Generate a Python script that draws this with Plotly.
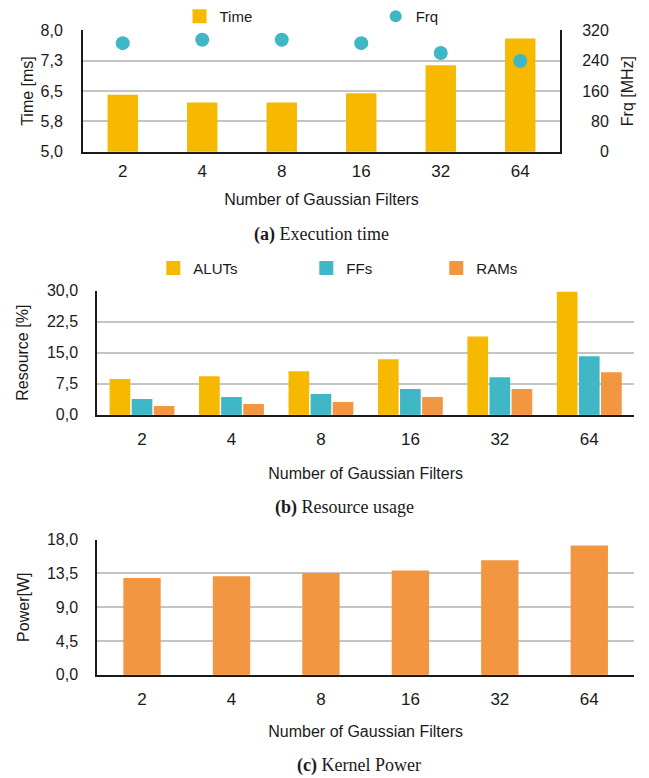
import plotly.graph_objects as go

W, H = 649, 778

filters = ["2", "4", "8", "16", "32", "64"]

# (a) Execution time
time_ms = [6.37, 6.18, 6.18, 6.41, 7.10, 7.76]
frq_mhz = [286, 295, 295, 286, 260, 239]
time_tickvals = [5.0, 5.75, 6.5, 7.25, 8.0]
time_ticktext = ["5,0", "5,8", "6,5", "7,3", "8,0"]
frq_tickvals = [0, 80, 160, 240, 320]
frq_ticktext = ["\u2007\u20070", "\u200780", "160", "240", "320"]

# (b) Resource usage
aluts = [8.28, 8.96, 10.16, 13.04, 18.56, 29.36]
ffs = [3.45, 3.92, 4.64, 5.84, 8.72, 13.76]
rams = [1.76, 2.24, 2.72, 3.92, 5.84, 9.92]
res_tickvals = [0, 7.5, 15, 22.5, 30]
res_ticktext = ["0,0", "7,5", "15,0", "22,5", "30,0"]

# (c) Kernel power
power_w = [12.70, 12.92, 13.35, 13.70, 15.05, 17.00]
pow_tickvals = [0, 4.5, 9, 13.5, 18]
pow_ticktext = ["0,0", "4,5", "9,0", "13,5", "18,0"]

YELLOW = "#F6B900"
TEAL = "#40B7C7"
ORANGE = "#F39641"
GRID = "#C4C4C4"
AX = "#1a1a1a"
FONT = "Liberation Sans, Arial, sans-serif"
SERIF = "Liberation Serif, Times New Roman, serif"
LW = 3  # bar outline (same colour as fill)


def px_x(x):
    return x / W


def px_y(y):
    return 1 - y / H


def bar_marker(c):
    return dict(color=c, line=dict(color=c, width=LW))


fig = go.Figure()

fig.add_trace(go.Bar(x=filters, y=time_ms, name="Time", marker=bar_marker(YELLOW),
                     width=0.345, xaxis="x", yaxis="y", legend="legend"))
fig.add_trace(go.Scatter(x=filters, y=frq_mhz, name="Frq", mode="markers",
                         marker=dict(color=TEAL, size=14), xaxis="x", yaxis="y2",
                         legend="legend2"))

fig.add_trace(go.Bar(x=filters, y=aluts, name="ALUTs", marker=bar_marker(YELLOW),
                     xaxis="x2", yaxis="y3", legend="legend3"))
fig.add_trace(go.Bar(x=filters, y=ffs, name="FFs", marker=bar_marker(TEAL),
                     xaxis="x2", yaxis="y3", legend="legend4"))
fig.add_trace(go.Bar(x=filters, y=rams, name="RAMs", marker=bar_marker(ORANGE),
                     xaxis="x2", yaxis="y3", legend="legend5"))

fig.add_trace(go.Bar(x=filters, y=power_w, name="Power", marker=bar_marker(ORANGE),
                     width=0.384, xaxis="x3", yaxis="y4", showlegend=False))

TITLE_FONT = dict(family=FONT, size=16, color=AX)

xcommon = dict(type="category", showgrid=False, showline=True, linecolor=AX,
               linewidth=2, ticks="", tickfont=dict(size=17, color=AX),
               automargin=False)
ycommon = dict(showgrid=True, gridcolor=GRID, gridwidth=2, showline=True,
               linecolor=AX, linewidth=2, ticks="", zeroline=False,
               tickfont=dict(size=16, color=AX), automargin=False)

a_dom_x = [px_x(83), px_x(560)]
a_dom_y = [px_y(151), px_y(29.3)]
b_dom_x = [px_x(97.3), px_x(634)]
b_dom_y = [px_y(414.3), px_y(290)]
c_dom_y = [px_y(674.7), px_y(539.3)]

fig.update_layout(
    template="none",
    width=W, height=H, autosize=False,
    margin=dict(l=0, r=0, t=0, b=0, pad=0),
    paper_bgcolor="white", plot_bgcolor="white",
    font=dict(family=FONT, color=AX),
    barmode="group", bargap=0.259, bargroupgap=0.2,
    hovermode=False,
    xaxis=dict(xcommon, domain=a_dom_x, anchor="y", ticklabelstandoff=3,
               title=dict(text="Number of Gaussian Filters", standoff=14, font=TITLE_FONT)),
    yaxis=dict(ycommon, domain=a_dom_y, anchor="x", range=[5, 8],
               tickvals=time_tickvals, ticktext=time_ticktext,
               ticklabelstandoff=15,
               title=dict(text="Time [ms]", standoff=3, font=TITLE_FONT)),
    yaxis2=dict(ycommon, overlaying="y", side="right", anchor="x", range=[0, 320],
                tickvals=frq_tickvals, ticktext=frq_ticktext, showgrid=False,
                ticklabelstandoff=17,
                title=dict(text="Frq [MHz]", standoff=14, font=TITLE_FONT)),
    xaxis2=dict(xcommon, domain=b_dom_x, anchor="y3", ticklabelstandoff=8,
                title=dict(text="Number of Gaussian Filters", standoff=20, font=TITLE_FONT)),
    yaxis3=dict(ycommon, domain=b_dom_y, anchor="x2", range=[0, 30],
                tickvals=res_tickvals, ticktext=res_ticktext,
                ticklabelstandoff=14,
                title=dict(text="Resource [%]", standoff=14, font=TITLE_FONT)),
    xaxis3=dict(xcommon, domain=b_dom_x, anchor="y4", ticklabelstandoff=8,
                title=dict(text="Number of Gaussian Filters", standoff=18, font=TITLE_FONT)),
    yaxis4=dict(ycommon, domain=c_dom_y, anchor="x3", range=[0, 18],
                tickvals=pow_tickvals, ticktext=pow_ticktext,
                ticklabelstandoff=14,
                title=dict(text="Power[W]", standoff=13, font=TITLE_FONT)),
)

leg_common = dict(orientation="h", xanchor="left", yanchor="middle",
                  bgcolor="rgba(0,0,0,0)", borderwidth=0,
                  font=dict(size=15, color=AX), itemsizing="constant")
fig.update_layout(
    legend=dict(leg_common, x=px_x(199.5 - 20), y=px_y(16)),
    legend2=dict(leg_common, x=px_x(395.7 - 20), y=px_y(16)),
    legend3=dict(leg_common, x=px_x(173.3 - 20), y=px_y(268.3)),
    legend4=dict(leg_common, x=px_x(326.3 - 20), y=px_y(268.3)),
    legend5=dict(leg_common, x=px_x(456.3 - 20), y=px_y(268.3)),
)

captions = [("<b>(a)</b> Execution time", 321.5, 234),
            ("<b>(b)</b> Resource usage", 344.3, 506.7),
            ("<b>(c)</b> Kernel Power", 359.2, 765)]
for text, cx, cy in captions:
    fig.add_annotation(text=text, x=px_x(cx), y=px_y(cy), xref="paper", yref="paper",
                       xanchor="center", yanchor="middle", showarrow=False,
                       font=dict(family=SERIF, size=18, color=AX))

# place the figure flush with the window corner (no default page margin)
fig.write_html("out.html", config={"displayModeBar": False},
               post_script="document.body.style.margin='0px';")
